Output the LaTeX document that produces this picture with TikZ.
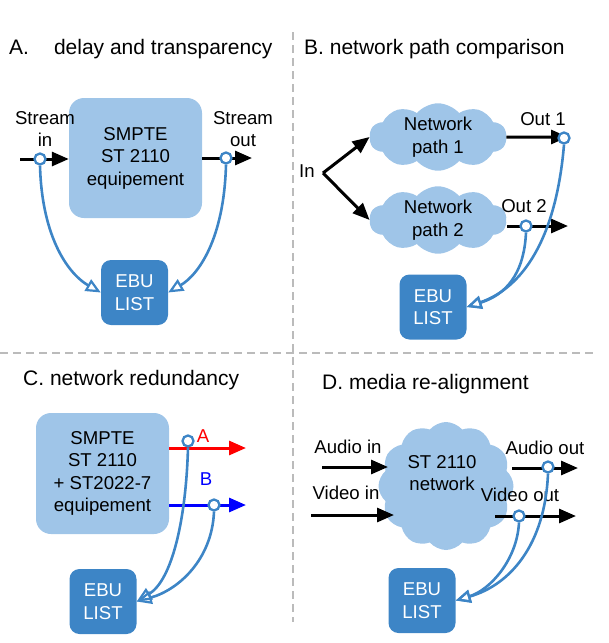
\documentclass[tikz,border=0pt]{standalone}
\usepackage{fontspec}
\setmainfont{Liberation Sans}
\usetikzlibrary{arrows.meta,shapes.symbols}
\definecolor{lightb}{HTML}{9FC5E8}
\definecolor{darkb}{HTML}{3D85C6}
\definecolor{divgrey}{HTML}{BBBBBB}
\begin{document}
\begin{tikzpicture}[x=1pt,y=-1pt,
 txt/.style={font=\fontsize{18.6}{22.5}\selectfont, align=center, inner sep=0},
 ttl/.style={font=\fontsize{21}{25}\selectfont, anchor=west, inner sep=0},
 equip/.style={txt, fill=lightb, rounded corners=15, minimum width=133, minimum height=120},
 ebu/.style={txt, fill=darkb, text=white, rounded corners=10, minimum width=67, minimum height=65},
 netcloud/.style={cloud, fill=lightb, cloud puffs=10, cloud puff arc=100, cloud ignores aspect, inner sep=0, txt},
 flow/.style={line width=3, -{Triangle[length=17,width=14]}},
 tapline/.style={darkb, line width=2.6, -{Triangle[open,length=15,width=13,line width=2.2]}},
 tap/.style={circle, draw=darkb, fill=white, line width=2.3, inner sep=0, minimum size=11},
 divider/.style={divgrey, line width=1.8, dash pattern=on 8 off 5},
]
\useasboundingbox (0,0) rectangle (609,643);
% dividers
\coordinate (vtop) at (293,32);
\coordinate (vbot) at (293,622);
\coordinate (hl) at (0,353);
\coordinate (hr) at (595,353);
\draw[divider] (vtop) -- (vbot);
\draw[divider] (hl) -- (hr);

% ---------- Panel A
\node[ttl] (tA) at (9,49) {A.\hspace{25pt}delay and transparency};
\node[equip] (eqA) at (135.5,158) {SMPTE\\ST 2110\\equipement};
\node[ebu] (ebuA) at (134.5,292.5) {EBU\\LIST};
\node[txt] (sinl) at (45,129) {Stream\\in};
\node[txt] (soutl) at (243,129) {Stream\\out};
\coordinate (ainS) at (20,159);
\coordinate (aoutE) at (252,158);
\draw[flow] (ainS) -- (eqA.west |- ainS);
\draw[flow] (eqA.east |- aoutE) -- (aoutE);
\node[tap] (tA1) at (40,159) {};
\node[tap] (tA2) at (226,158) {};
\draw[tapline] (tA1.south) .. controls (42,240) and (70,275) .. (ebuA.west);
\draw[tapline] (tA2.south) .. controls (224,240) and (198,275) .. (ebuA.east);

% ---------- Panel B
\node[ttl] (tB) at (304,49) {B. network path comparison};
\node[netcloud, minimum width=137, minimum height=61] (c1) at (438,137) {Network\\path 1};
\node[netcloud, minimum width=137, minimum height=64] (c2) at (438,220) {Network\\path 2};
\node[txt] (inl) at (307,171) {In};
\coordinate (split) at (323,173);
\draw[flow] (split) -- (c1.west);
\draw[flow] (split) -- (c2.west);
\coordinate (o1e) at (568,137);
\coordinate (o2s) at (507,226);
\coordinate (o2e) at (568,226);
\draw[flow] (c1.east) -- (o1e);
\draw[flow] (o2s) -- (o2e);
\node[txt] (o1l) at (543,119) {Out 1};
\node[txt] (o2l) at (524,206) {Out 2};
\node[ebu] (ebuB) at (433,307) {EBU\\LIST};
\node[tap] (tB1) at (564,138) {};
\node[tap] (tB2) at (526,226) {};
\draw[tapline] (tB1.south) .. controls (556,240) and (522,288) .. (ebuB.east);
\draw[tapline] (tB2.south) .. controls (524,275) and (505,295) .. (ebuB.east);

% ---------- Panel C
\node[ttl] (tC) at (23,380) {C. network redundancy};
\node[equip, minimum height=121] (eqC) at (102.5,473.5) {SMPTE\\ST 2110\\+ ST2022-7\\equipement};
\coordinate (ae) at (246,448);
\coordinate (be) at (246,505);
\draw[flow, red] (eqC.east |- ae) -- (ae);
\draw[flow, blue] (eqC.east |- be) -- (be);
\node[txt, text=red] (al) at (203,436) {A};
\node[txt, text=blue] (bl) at (206,479) {B};
\node[ebu] (ebuC) at (103,601.5) {EBU\\LIST};
\node[tap] (tC1) at (188,441) {};
\node[tap] (tC2) at (214,505) {};
\draw[tapline] (tC1.south) .. controls (186,520) and (172,580) .. (ebuC.east);
\draw[tapline] (tC2.south) .. controls (212,560) and (178,590) .. (ebuC.east);

% ---------- Panel D
\node[ttl] (tD) at (322,384) {D. media re-alignment};
\node[netcloud, cloud puffs=12, minimum width=135, minimum height=128] (cD) at (446,486) {};
\node[txt] (cDl) at (442,473) {ST 2110\\network};
\node[txt] (ail) at (348,447) {Audio in};
\node[txt] (vil) at (346,493) {Video in};
\coordinate (ais) at (322,467);
\coordinate (aie) at (388,467);
\coordinate (vis) at (311,515);
\coordinate (vie) at (394,515);
\draw[flow] (ais) -- (aie);
\draw[flow] (vis) -- (vie);
\coordinate (aos) at (512,468);
\coordinate (aoe) at (578,468);
\coordinate (vos) at (495,516);
\coordinate (voe) at (576,516);
\draw[flow] (aos) -- (aoe);
\draw[flow] (vos) -- (voe);
\node[txt] (aol) at (545,448) {Audio out};
\node[txt] (vol) at (520,495) {Video out};
\node[ebu] (ebuD) at (422,600.5) {EBU\\LIST};
\node[tap] (tD1) at (548,467) {};
\node[tap] (tD2) at (519,516) {};
\draw[tapline] (tD1.south) .. controls (545,545) and (510,585) .. (ebuD.east);
\draw[tapline] (tD2.south) .. controls (517,560) and (490,590) .. (ebuD.east);
\end{tikzpicture}
\end{document}
